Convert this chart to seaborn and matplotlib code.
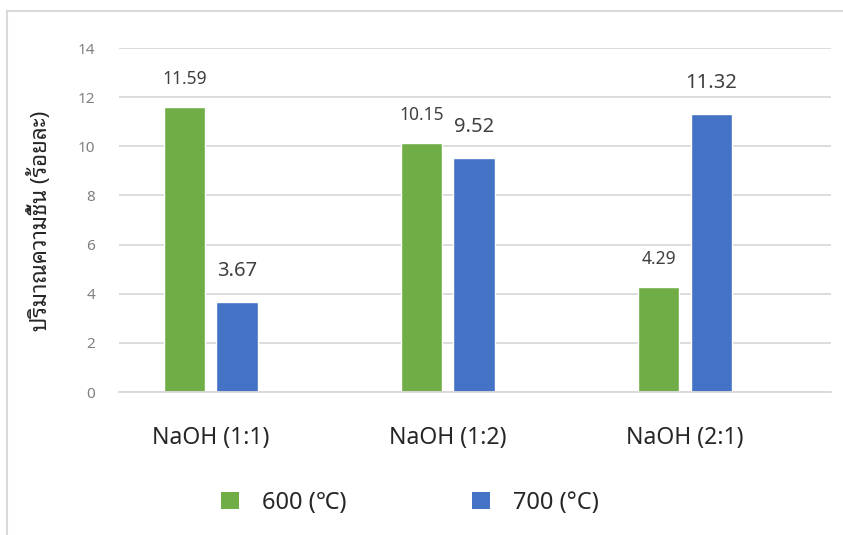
import matplotlib
matplotlib.use("Agg")
import matplotlib.pyplot as plt
from matplotlib.lines import Line2D
from matplotlib.patches import Patch
import seaborn as sns
import pandas as pd

categories = ["NaOH (1:1)", "NaOH (1:2)", "NaOH (2:1)"]
series_names = ["600 (\u2103)", "700 (\u00b0C)"]
values_600 = [11.59, 10.15, 4.29]
values_700 = [3.67, 9.52, 11.32]
y_ticks = [0, 2, 4, 6, 8, 10, 12, 14]
y_label = "ปริมาณความชื้น (ร้อยละ)"

sns.set_theme(style="white")
plt.rcParams["font.family"] = ["Noto Sans", "Noto Sans Thai UI", "DejaVu Sans"]

df = pd.DataFrame({
    "cat": categories * 2,
    "series": [series_names[0]] * 3 + [series_names[1]] * 3,
    "val": values_600 + values_700,
})

colors = ["#70AD47", "#4472C4"]
fig = plt.figure(figsize=(8.43, 5.35), dpi=100)
ax = fig.add_axes([119 / 843, 1 - 392 / 535, 712 / 843, 344 / 535])

sns.barplot(data=df, x="cat", y="val", hue="series", palette=colors,
            width=0.443, gap=0.21, ax=ax, legend=False, saturation=1)

ax.set_xlim(-0.388, 2.616)
ax.set_ylim(0, 14)
ax.set_yticks(y_ticks)
ax.set_yticklabels([str(t) for t in y_ticks])
ax.yaxis.grid(True, color="#D9D9D9", linewidth=1.3)
ax.set_axisbelow(True)
for s in ["top", "right", "left"]:
    ax.spines[s].set_visible(False)
ax.spines["bottom"].set_color("#D9D9D9")
ax.spines["bottom"].set_linewidth(1.3)
ax.tick_params(axis="y", length=0, pad=17, labelsize=11, labelcolor="#808080")
ax.tick_params(axis="x", length=0, pad=24.5, labelsize=16.5, labelcolor="#262626")
ax.set_xlabel("")
ax.set_ylabel("")

label_sizes = [12.5, 14.5]
label_pads = [13.5, 15]
for cont, fs, pd_ in zip(ax.containers, label_sizes, label_pads):
    ax.bar_label(cont, fmt="%.2f", padding=pd_, fontsize=fs, color="#404040")

fig.text(40 / 843, 1 - 221 / 535, y_label, rotation=90, ha="center", va="center",
         fontsize=16, color="#262626", fontweight="light",
         family=["Noto Sans Thai Looped", "Noto Sans", "DejaVu Sans"])

handles = [Patch(facecolor=c, edgecolor="none") for c in colors]
fig.legend(handles, series_names, loc="center", bbox_to_anchor=(410 / 843, 1 - 503 / 535),
           ncol=2, frameon=False, fontsize=17, handlelength=0.75, handleheight=0.75,
           handletextpad=1.0, columnspacing=5.3, labelcolor="#262626")

fig.add_artist(Line2D([7 / 843, 7 / 843], [0, 1 - 11 / 535], transform=fig.transFigure,
                      color="#D9D9D9", linewidth=1.5))
fig.add_artist(Line2D([7 / 843, 1], [1 - 11 / 535, 1 - 11 / 535], transform=fig.transFigure,
                      color="#D9D9D9", linewidth=1.5))

fig.savefig("out.png", dpi=100)
